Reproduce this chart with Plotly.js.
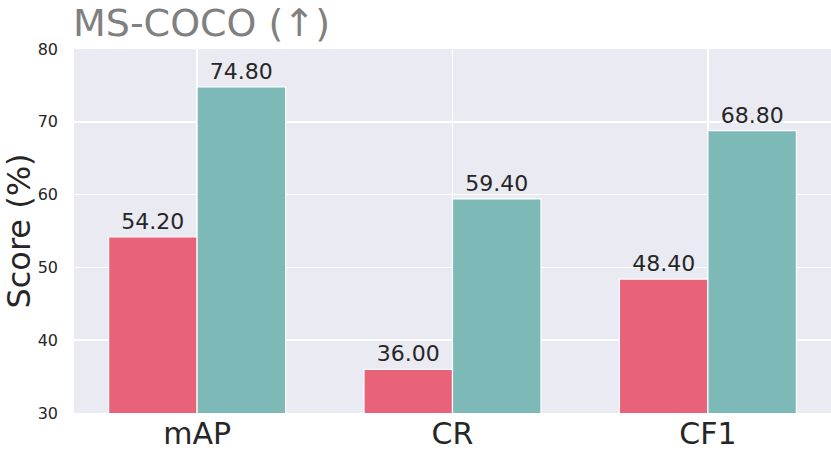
<!DOCTYPE html>
<html><head><meta charset="utf-8">
<script src="https://cdn.plot.ly/plotly-3.0.1.min.js"></script>
<style>html,body{margin:0;padding:0;background:#fff}</style>
</head><body>
<div id="chart" style="width:831px;height:459px"></div>
<script>
const categories = ["mAP", "CR", "CF1"];
const seriesA = [54.2, 36.0, 48.4];
const seriesB = [74.8, 59.4, 68.8];
const yTicks = [30, 40, 50, 60, 70, 80];
const titleText = "MS-COCO (↑)";

const fontFam = "DejaVu Sans, sans-serif";
function mk(vals, color, name) {
  return {
    type: "bar", x: categories, y: vals, name: name,
    marker: {color: color, line: {color: "#ffffff", width: 1.2}},
    text: vals.map(v => v.toFixed(2)), textposition: "outside",
    textfont: {family: fontFam, size: 22, color: "#262626"},
    cliponaxis: false
  };
}
const data = [mk(seriesA, "#E8637A", "A"), mk(seriesB, "#7DB9B6", "B")];
const layout = {
  width: 831, height: 459,
  margin: {l: 74, r: 0, t: 49, b: 46},
  paper_bgcolor: "#ffffff", plot_bgcolor: "#EAEAF2",
  showlegend: false, barmode: "group", bargap: 0.307, bargroupgap: 0,
  annotations: [{text: titleText, font: {family: fontFam, size: 38, color: "#808080"},
          x: 0, xref: "paper", xanchor: "left", y: 1 + 49 / 364, yref: "paper", yanchor: "top",
          showarrow: false, borderpad: 0, xshift: -2}],
  xaxis: {range: [-0.482, 2.482], showgrid: true, gridcolor: "#ffffff", gridwidth: 1.5,
          tickfont: {family: fontFam, size: 30, color: "#262626"}, ticks: "", zeroline: false,
          showline: false},
  yaxis: {range: [30, 80], tickvals: yTicks, showgrid: true, gridcolor: "#ffffff", gridwidth: 1.5,
          tickfont: {family: fontFam, size: 16, color: "#262626"}, ticks: "", ticklabelstandoff: 15,
          zeroline: false, showline: false,
          title: {text: "Score (%)", font: {family: fontFam, size: 32, color: "#262626"}, standoff: 2}},
  font: {family: fontFam}
};
Plotly.newPlot("chart", data, layout, {displayModeBar: false, staticPlot: true});
</script>
</body></html>
